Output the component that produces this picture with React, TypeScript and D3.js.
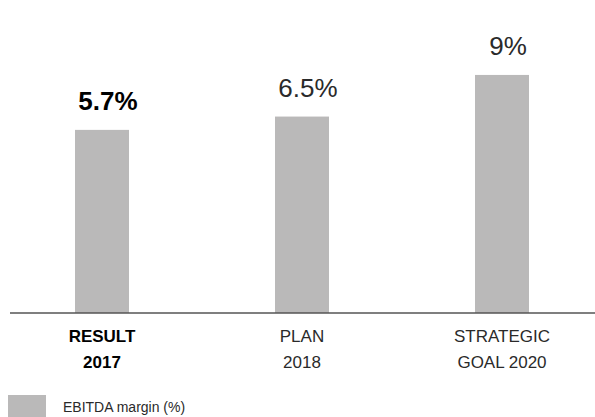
import React, { useEffect, useRef } from 'react';
import * as d3 from 'd3';

const categories = ['RESULT 2017', 'PLAN 2018', 'STRATEGIC GOAL 2020'];
const categoryLines = [['RESULT', '2017'], ['PLAN', '2018'], ['STRATEGIC', 'GOAL 2020']];
const values = [5.7, 6.5, 9];
const valueLabels = ['5.7%', '6.5%', '9%'];
const seriesName = 'EBITDA margin (%)';

const W = 595;
const H = 417;
const FONT = '"Liberation Sans", Arial, Helvetica, sans-serif';

const App = () => {
  const svgRef = useRef<SVGSVGElement>(null);

  useEffect(() => {
    const svg = d3.select(svgRef.current);
    svg.selectAll('*').remove();

    const baseline = 313;
    const barWidth = 54;
    const barColor = '#bab9b9';
    const textColor = '#2a2a2a';
    const isActual = (i: number) => i === 0; // the actual result is set in bold

    const x = d3.scalePoint<string>().domain(categories).range([102, 502]);
    const y = d3.scaleLinear().domain([-5.3, 12]).range([baseline, 25]);

    // bars
    svg.append('g')
      .selectAll('rect')
      .data(values)
      .join('rect')
      .attr('x', (d, i) => (x(categories[i]) as number) - barWidth / 2)
      .attr('y', d => y(d))
      .attr('width', barWidth)
      .attr('height', d => baseline - y(d))
      .attr('fill', barColor);

    // value labels
    svg.append('g')
      .selectAll('text')
      .data(values)
      .join('text')
      .attr('x', (d, i) => (x(categories[i]) as number) + 6)
      .attr('y', d => y(d) - 20)
      .attr('text-anchor', 'middle')
      .style('font-family', FONT)
      .style('font-size', '26px')
      .style('font-weight', (d, i) => (isActual(i) ? 'bold' : 'normal'))
      .style('fill', (d, i) => (isActual(i) ? '#000' : textColor))
      .text((d, i) => valueLabels[i]);

    // axis line
    svg.append('line')
      .attr('x1', 10)
      .attr('x2', W)
      .attr('y1', baseline)
      .attr('y2', baseline)
      .attr('stroke', '#555')
      .attr('stroke-width', 1.5);

    // category labels
    const cat = svg.append('g')
      .selectAll('text')
      .data(categories)
      .join('text')
      .attr('x', d => x(d) as number)
      .attr('y', 342)
      .attr('text-anchor', 'middle')
      .style('font-family', FONT)
      .style('font-size', '17px')
      .style('font-weight', (d, i) => (isActual(i) ? 'bold' : 'normal'))
      .style('fill', (d, i) => (isActual(i) ? '#000' : textColor));

    cat.each(function (d, i) {
      d3.select(this)
        .selectAll('tspan')
        .data(categoryLines[i])
        .join('tspan')
        .attr('x', x(d) as number)
        .attr('dy', (t, j) => (j === 0 ? 0 : 25.5))
        .text(t => t);
    });

    // legend
    const legend = svg.append('g');
    legend.append('rect')
      .attr('x', 8)
      .attr('y', 395)
      .attr('width', 38)
      .attr('height', 30)
      .attr('fill', barColor);
    legend.append('text')
      .attr('x', 63)
      .attr('y', 412)
      .style('font-family', FONT)
      .style('font-size', '14px')
      .style('fill', textColor)
      .text(seriesName);
  }, []);

  return (
    <svg
      ref={svgRef}
      width={W}
      height={H}
      style={{ position: 'absolute', left: 0, top: 0, background: '#fff' }}
    />
  );
};

export default App;
